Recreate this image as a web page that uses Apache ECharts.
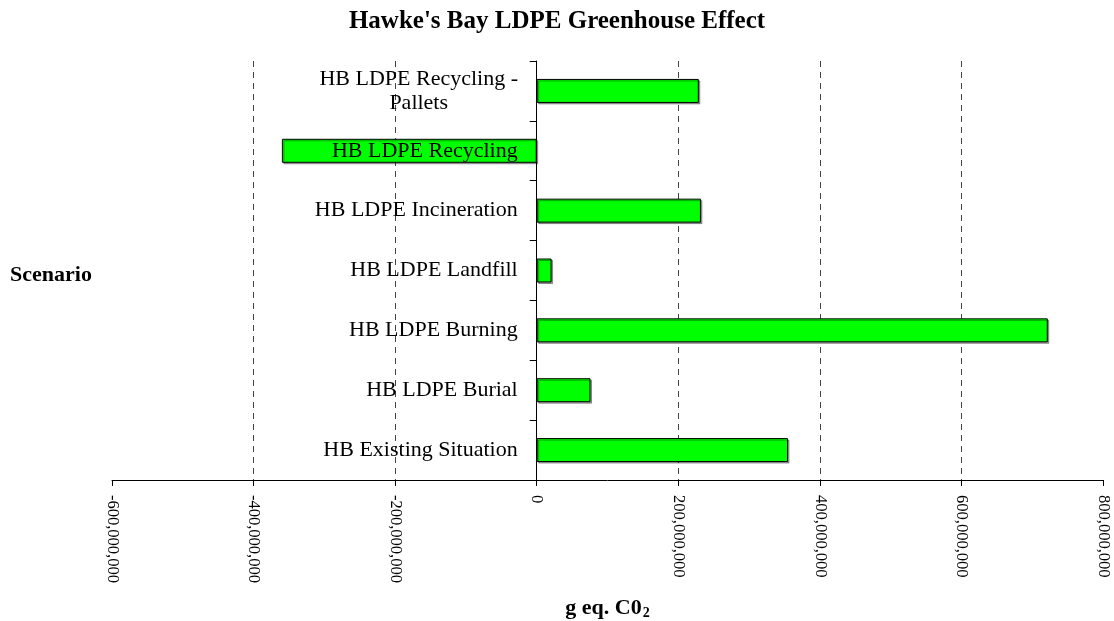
<!DOCTYPE html>
<html>
<head>
<meta charset="utf-8">
<title>Hawke's Bay LDPE Greenhouse Effect</title>
<script src="https://cdn.jsdelivr.net/npm/echarts@6/dist/echarts.min.js"></script>
<style>
  html, body { margin: 0; padding: 0; background: #fff; }
  #main { width: 1114px; height: 621px; }
</style>
</head>
<body>
<div id="main"></div>
<script>
// scenarios, top to bottom
var scenarios = [
  'HB LDPE Recycling -\nPallets',
  'HB LDPE Recycling',
  'HB LDPE Incineration',
  'HB LDPE Landfill',
  'HB LDPE Burning',
  'HB LDPE Burial',
  'HB Existing Situation'
];
// g eq. CO2
var effect = [229000000, -360000000, 232000000, 21000000, 722000000, 76000000, 355000000];
// x axis ticks
var xTicks = [-600000000, -400000000, -200000000, 0, 200000000, 400000000, 600000000, 800000000];

var serif = "'Liberation Serif', 'Times New Roman', serif";

function withCommas(v) {
  return String(v).replace(/\B(?=(\d{3})+(?!\d))/g, ',');
}

var chart = echarts.init(document.getElementById('main'));

// plot area
var gridLeft = 112, gridRight = 11;
var plotWidth = 1114 - gridLeft - gridRight;
var xMin = xTicks[0], xMax = xTicks[xTicks.length - 1];
// category axis sits on zero, moved there with offset
var zeroShift = plotWidth * (0 - xMin) / (xMax - xMin);

var option = {
  backgroundColor: '#fff',
  animation: false,
  title: [
    {
      text: "Hawke's Bay LDPE Greenhouse Effect",
      left: 'center',
      top: 4,
      textStyle: { fontFamily: serif, fontSize: 25, fontWeight: 'bold', color: '#000' }
    },
    {
      text: 'Scenario',
      left: 5,
      top: 259,
      textStyle: { fontFamily: serif, fontSize: 22, fontWeight: 'bold', color: '#000' }
    }
  ],
  grid: {
    left: gridLeft,
    right: gridRight,
    top: 61,
    bottom: 141,
    containLabel: false,
    outerBoundsMode: 'none'
  },
  xAxis: {
    type: 'value',
    min: xMin,
    max: xMax,
    interval: xTicks[1] - xTicks[0],
    name: '{n|g eq. C0}{s|2}',
    nameLocation: 'middle',
    nameGap: 116,
    nameTextStyle: {
      rich: {
        n: { fontFamily: serif, fontSize: 22, fontWeight: 'bold', color: '#000' },
        s: { fontFamily: serif, fontSize: 14, fontWeight: 'bold', color: '#000', padding: [10, 0, 0, 1] }
      }
    },
    axisLine: { show: true, lineStyle: { color: '#000', width: 1 } },
    axisTick: { show: true, length: 6, lineStyle: { color: '#000' } },
    axisLabel: {
      rotate: -90,
      margin: 15,
      fontFamily: serif,
      fontSize: 16.5,
      color: '#000',
      formatter: withCommas
    },
    splitLine: {
      show: true,
      showMinLine: false,
      showMaxLine: false,
      lineStyle: { color: '#444', width: 1, type: [6, 5] }
    }
  },
  yAxis: {
    type: 'category',
    inverse: true,
    data: scenarios,
    z: 5,
    offset: -zeroShift,
    axisLine: { show: true, onZero: false, lineStyle: { color: '#000', width: 1 } },
    axisTick: { show: true, length: 7, lineStyle: { color: '#000' } },
    axisLabel: {
      margin: 19,
      fontFamily: serif,
      fontSize: 22,
      color: '#000',
      formatter: function (v) {
        if (v.indexOf('\n') < 0) return v;
        return v.split('\n').map(function (s) { return '{c|' + s + '}'; }).join('\n');
      },
      rich: {
        c: { fontFamily: serif, fontSize: 22, color: '#000', width: 198, align: 'center', lineHeight: 24 }
      }
    },
    splitLine: { show: false }
  },
  series: [
    {
      type: 'bar',
      data: effect,
      barWidth: 24,
      itemStyle: {
        color: '#00ff00',
        borderColor: '#000',
        borderWidth: 1,
        shadowColor: 'rgba(0,0,0,0.35)',
        shadowOffsetX: 1.5,
        shadowOffsetY: 1.5
      }
    }
  ]
};

chart.setOption(option);
</script>
</body>
</html>
